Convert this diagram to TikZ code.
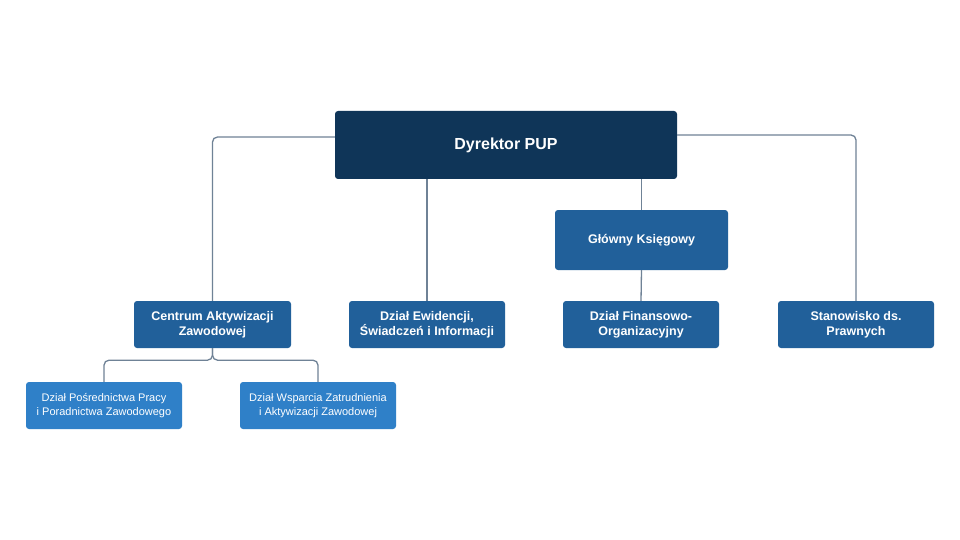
\documentclass[tikz,border=0pt]{standalone}
\usepackage{fontspec}
\setmainfont{Liberation Sans}
\begin{document}
\begin{tikzpicture}[x=1pt,y=-1pt,
  box/.style={draw=none,rounded corners=3pt,text=white,align=center,inner sep=0pt},
  lvl0/.style={box,fill=c0,font=\bfseries\fontsize{16}{19}\selectfont},
  lvl1/.style={box,fill=c1,font=\bfseries\fontsize{12.5}{15}\selectfont},
  lvl2/.style={box,fill=c2,font=\fontsize{11}{14}\selectfont},
  con/.style={draw=lc,line width=1.3pt,rounded corners=5pt}]
\definecolor{c0}{HTML}{0F3558}
\definecolor{c1}{HTML}{21609A}
\definecolor{c2}{HTML}{2F80C8}
\definecolor{lc}{HTML}{6F8296}
\useasboundingbox (0,0) rectangle (960,540);
\fill[white] (0,0) rectangle (960,540);
% connectors first
\coordinate (dl) at (335,137);
\coordinate (dr) at (677,135);
\node[lvl1,minimum width=157pt,minimum height=47pt] (cen) at (212.5,324.5) {Centrum Aktywizacji\\Zawodowej};
\node[lvl1,minimum width=156pt,minimum height=47pt] (ewi) at (427,324.5) {Dział Ewidencji,\\Świadczeń i Informacji};
\node[lvl1,minimum width=156pt,minimum height=47pt] (fin) at (641,324.5) {Dział Finansowo-\\Organizacyjny};
\node[lvl1,minimum width=156pt,minimum height=47pt] (pra) at (856,324.5) {Stanowisko ds.\\Prawnych};
\node[lvl1,minimum width=173pt,minimum height=60pt] (gk) at (641.5,240) {Główny Księgowy};
\node[lvl2,minimum width=156pt,minimum height=47pt] (p1) at (104,405.5) {Dział Pośrednictwa Pracy\\i Poradnictwa Zawodowego};
\node[lvl2,minimum width=156pt,minimum height=47pt] (p2) at (318,405.5) {Dział Wsparcia Zatrudnienia\\i Aktywizacji Zawodowej};
\node[lvl0,minimum width=342pt,minimum height=68pt] (dyr) at (506,145) {Dyrektor PUP};
\begin{scope}[on background layer/.style={}]
\end{scope}
\draw[con] (dyr.west |- dl) -| (cen.north);
\draw[con] (dyr.east |- dr) -| (pra.north);
\draw[con] (ewi.north |- dyr.south) -- (ewi.north);
\draw[con] (gk.north |- dyr.south) -- (gk.north);
\draw[con] (gk.south) -- (fin.north);
\draw[con] (cen.south) -- ++(0,12) -| (p1.north);
\draw[con] (cen.south) -- ++(0,12) -| (p2.north);
\end{tikzpicture}
\end{document}
